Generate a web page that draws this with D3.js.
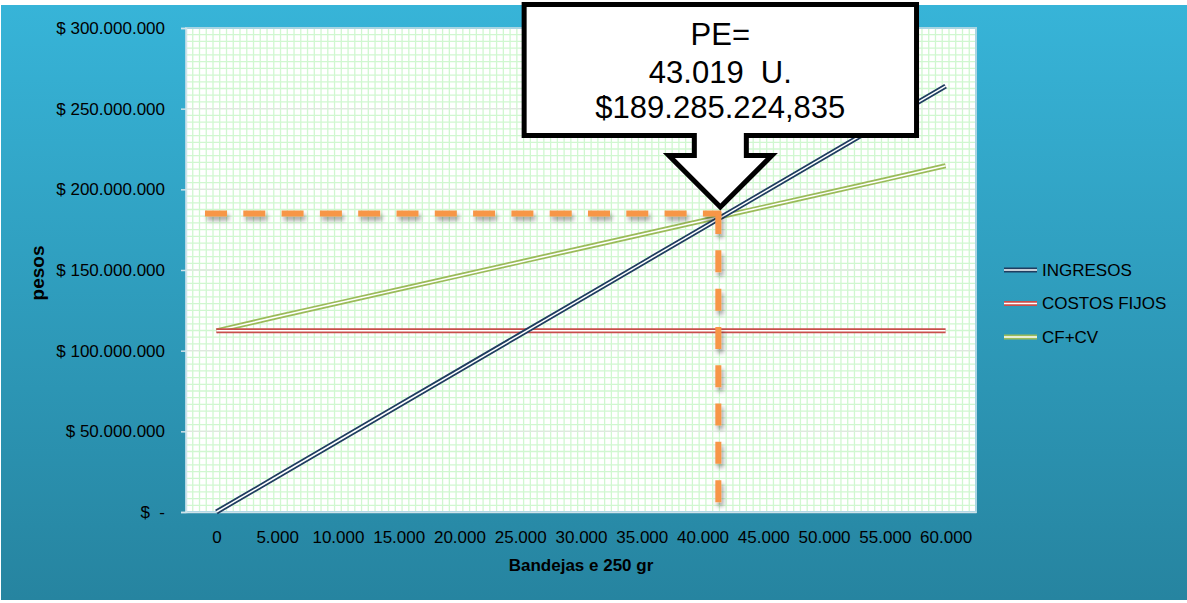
<!DOCTYPE html>
<html>
<head>
<meta charset="utf-8">
<script src="https://cdn.jsdelivr.net/npm/d3@7"></script>
<style>
  html, body { margin: 0; padding: 0; background: #ffffff; }
  svg { display: block; font-family: "Liberation Sans", Arial, sans-serif; }
</style>
</head>
<body>
<svg id="chart" width="1187" height="603"></svg>
<script>
// Units sold (bandejas de 250 gr) and the category labels shown under the axis
const units = [0, 5000, 10000, 15000, 20000, 25000, 30000, 35000, 40000, 45000, 50000, 55000, 60000];
const unitLabels = ["0", "5.000", "10.000", "15.000", "20.000", "25.000", "30.000",
                    "35.000", "40.000", "45.000", "50.000", "55.000", "60.000"];

// Series values in pesos
const ingresos = [0, 22000000, 44000000, 66000000, 88000000, 110000000, 132000000,
                  154000000, 176000000, 198000000, 220000000, 242000000, 264000000];
const costosFijos = [112300000, 112300000, 112300000, 112300000, 112300000, 112300000, 112300000,
                     112300000, 112300000, 112300000, 112300000, 112300000, 112300000];
const cfMasCv = [112300000, 121000000, 129500000, 138000000, 146500000, 155000000, 163500000,
                 172000000, 180500000, 189000000, 197500000, 206000000, 214600000];

const seriesNames = ["INGRESOS", "COSTOS FIJOS", "CF+CV"];

// Value axis ticks and their labels
const yTicks = [0, 50000000, 100000000, 150000000, 200000000, 250000000, 300000000];
const yTickLabels = ["$  -", "$ 50.000.000", "$ 100.000.000", "$ 150.000.000",
                     "$ 200.000.000", "$ 250.000.000", "$ 300.000.000"];

// Break-even point marked with the dashed guides, and the callout text
const peUnits = 41300;
const peValue = 185000000;
const calloutLines = ["PE=", "43.019  U.", "$189.285.224,835"];

const svg = d3.select("#chart");
const W = 1187, H = 603;
const plot = { left: 186, right: 976, top: 28, bottom: 512 };

// ---- background ----
const defs = svg.append("defs");
const bg = defs.append("linearGradient").attr("id", "bgGrad")
  .attr("x1", 0).attr("y1", 0).attr("x2", 0).attr("y2", 1);
bg.append("stop").attr("offset", "0%").attr("stop-color", "#37b4d8");
bg.append("stop").attr("offset", "100%").attr("stop-color", "#2684a0");

const shadow = defs.append("filter").attr("id", "dashShadow")
  .attr("x", "-20%").attr("y", "-20%").attr("width", "140%").attr("height", "140%");
shadow.append("feDropShadow").attr("dx", 2).attr("dy", 4).attr("stdDeviation", 2)
  .attr("flood-color", "#000").attr("flood-opacity", 0.35);

svg.append("rect").attr("x", 1).attr("y", 5).attr("width", W - 1).attr("height", 595)
  .attr("fill", "url(#bgGrad)");

// ---- scales ----
const x = d3.scalePoint().domain(units).range([plot.left, plot.right]).padding(0.5);
const xLin = d3.scaleLinear().domain([units[0], units[units.length - 1]])
  .range([x(units[0]), x(units[units.length - 1])]);
const y = d3.scaleLinear().domain([0, 300000000]).range([plot.bottom, plot.top]);

// ---- plot area & grid ----
svg.append("rect").attr("x", plot.left).attr("y", plot.top)
  .attr("width", plot.right - plot.left).attr("height", plot.bottom - plot.top)
  .attr("fill", "#ffffff");

const grid = svg.append("g");
const minorX = x.step() / 9;
const nX = Math.round((plot.right - plot.left) / minorX);
grid.selectAll("line.vx").data(d3.range(1, nX)).join("line")
  .attr("x1", i => plot.left + i * minorX).attr("x2", i => plot.left + i * minorX)
  .attr("y1", plot.top).attr("y2", plot.bottom)
  .attr("stroke", "#d0f7d0").attr("stroke-width", 1.3);

const minorY = d3.range(0, 300000001, 50000000 / 12);
grid.selectAll("line.hy").data(minorY).join("line")
  .attr("x1", plot.left).attr("x2", plot.right)
  .attr("y1", d => y(d)).attr("y2", d => y(d))
  .attr("stroke", "#d0f7d0").attr("stroke-width", 1.3);
grid.selectAll("line.major").data(yTicks).join("line")
  .attr("x1", plot.left).attr("x2", plot.right)
  .attr("y1", d => y(d)).attr("y2", d => y(d))
  .attr("stroke", "#dfe8df").attr("stroke-width", 1.3);

svg.append("rect").attr("x", plot.left).attr("y", plot.top)
  .attr("width", plot.right - plot.left).attr("height", plot.bottom - plot.top)
  .attr("fill", "none").attr("stroke", "#a9d5e2").attr("stroke-width", 2);

// ---- axes ----
const yAxis = svg.append("g").attr("transform", `translate(${plot.left},0)`)
  .call(d3.axisLeft(y).tickValues(yTicks).tickSize(5).tickPadding(16)
    .tickFormat((d, i) => yTickLabels[i]));
yAxis.select(".domain").attr("stroke", "#cfe3ea").attr("stroke-width", 1.5);
yAxis.selectAll(".tick line").attr("stroke", "#cfe3ea").attr("stroke-width", 1.5);
yAxis.selectAll("text").attr("font-size", 17).attr("fill", "#000")
  .attr("font-family", "Liberation Sans, Arial, sans-serif")
  .style("white-space", "pre");

const xAxis = svg.append("g").attr("transform", `translate(0,${plot.bottom})`)
  .call(d3.axisBottom(x).tickSize(0).tickPadding(19)
    .tickFormat((d, i) => unitLabels[i]));
xAxis.select(".domain").attr("stroke", "#cfe3ea").attr("stroke-width", 1.5);
xAxis.selectAll("text").attr("font-size", 17).attr("fill", "#000")
  .attr("font-family", "Liberation Sans, Arial, sans-serif");

// axis titles
svg.append("text").attr("x", (plot.left + plot.right) / 2).attr("y", 571)
  .attr("text-anchor", "middle").attr("font-size", 17).attr("font-weight", "bold")
  .attr("fill", "#000").text("Bandejas e 250 gr");
svg.append("text").attr("transform", "translate(44,273) rotate(-90)")
  .attr("text-anchor", "middle").attr("font-size", 19).attr("font-weight", "bold")
  .attr("fill", "#000").text("pesos");

// ---- series (double-stroke lines) ----
const colors = { "INGRESOS": "#1f3d60", "COSTOS FIJOS": "#c84e4a", "CF+CV": "#9bbb59" };
const seriesData = {
  "INGRESOS": ingresos,
  "COSTOS FIJOS": costosFijos,
  "CF+CV": cfMasCv
};
const line = d3.line().x(d => x(d.u)).y(d => y(d.v));

function doubleLine(g, pathD, color) {
  g.append("path").attr("d", pathD).attr("fill", "none")
    .attr("stroke", color).attr("stroke-width", 5);
  g.append("path").attr("d", pathD).attr("fill", "none")
    .attr("stroke", "#ffffff").attr("stroke-width", 1.5);
}

const linesG = svg.append("g");
["CF+CV", "COSTOS FIJOS", "INGRESOS"].forEach(name => {
  const pts = units.map((u, i) => ({ u, v: seriesData[name][i] }));
  doubleLine(linesG, line(pts), colors[name]);
});

// ---- break-even guides ----
const px = xLin(peUnits), py = y(peValue);
const guides = svg.append("g").attr("filter", "url(#dashShadow)");
guides.append("line").attr("x1", plot.left + 19).attr("x2", px + 3)
  .attr("y1", py).attr("y2", py)
  .attr("stroke", "#f79646").attr("stroke-width", 6).attr("stroke-dasharray", "22 16.3");
guides.append("line").attr("x1", px).attr("x2", px)
  .attr("y1", py - 1.5).attr("y2", plot.bottom)
  .attr("stroke", "#f79646").attr("stroke-width", 6).attr("stroke-dasharray", "22 16.3");

// ---- callout pointing at the break-even point ----
const cx = px + 2;
const tipY = py - 6.5;
const boxTop = 4.5, boxBottom = 135.5, boxHalf = 196.2;
const stemHalf = 26, headHalf = 51.5, headTop = 155.5;
const callout = d3.path();
callout.moveTo(cx - boxHalf, boxTop);
callout.lineTo(cx + boxHalf, boxTop);
callout.lineTo(cx + boxHalf, boxBottom);
callout.lineTo(cx + stemHalf, boxBottom);
callout.lineTo(cx + stemHalf, headTop);
callout.lineTo(cx + headHalf, headTop);
callout.lineTo(cx, tipY);
callout.lineTo(cx - headHalf, headTop);
callout.lineTo(cx - stemHalf, headTop);
callout.lineTo(cx - stemHalf, boxBottom);
callout.lineTo(cx - boxHalf, boxBottom);
callout.closePath();
svg.append("path").attr("d", callout.toString())
  .attr("fill", "#ffffff").attr("stroke", "#000").attr("stroke-width", 5)
  .attr("stroke-linejoin", "miter");

const calloutBaselines = [45, 83, 118];
svg.append("g").selectAll("text").data(calloutLines).join("text")
  .attr("x", cx).attr("y", (d, i) => calloutBaselines[i])
  .attr("text-anchor", "middle").attr("font-size", 31).attr("fill", "#000")
  .style("white-space", "pre").text(d => d);

// ---- legend ----
const legendY = [270, 303.5, 337];
const legend = svg.append("g");
seriesNames.forEach((name, i) => {
  const ly = legendY[i];
  doubleLine(legend, `M1004,${ly}H1037`, colors[name]);
  legend.append("text").attr("x", 1042).attr("y", ly).attr("dy", "0.35em")
    .attr("font-size", 17).attr("fill", "#000").text(name);
});
</script>
</body>
</html>
